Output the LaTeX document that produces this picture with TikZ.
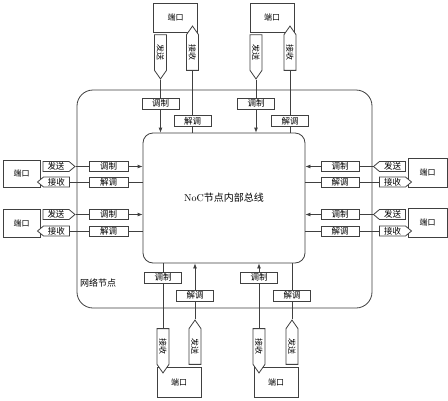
\documentclass[tikz,border=0pt]{standalone}
\usepackage{fontspec}
\newfontfamily\cjk{Noto Sans CJK SC}
\usetikzlibrary{shapes.symbols, arrows.meta}

\tikzset{
  line/.style={draw=black!75, line width=0.8pt},
  arr/.style={line, -{Latex[length=5pt,width=4pt]}},
  port/.style={line, fill=white, inner sep=0pt, minimum width=44, minimum height=29, font=\cjk\fontsize{8}{8}\selectfont},
  modbox/.style={line, fill=white, inner sep=0pt, minimum width=37, minimum height=11, font=\cjk\fontsize{8.5}{8.5}\selectfont},
  sigv/.style={line, fill=white, signal, inner sep=0pt, minimum width=12, minimum height=41, signal pointer angle=70, font=\cjk\fontsize{8}{8}\selectfont},
  sigh/.style={line, fill=white, signal, inner sep=0pt, minimum width=32, minimum height=10, signal pointer angle=80, font=\cjk\fontsize{8.5}{8.5}\selectfont}
}

\begin{document}
\begin{tikzpicture}[x=1pt, y=-1pt]
\useasboundingbox[fill=white] (0,0) rectangle (448,400);
% network node and bus
\draw[line, rounded corners=16] (77,90) rectangle (372,308);
\node[line, rounded corners=10, inner sep=0pt, minimum width=162, minimum height=130, font=\cjk\fontsize{10}{10}\selectfont] (bus) at (224,198) {{\rmfamily NoC}节点内部总线};
\node[font=\cjk\fontsize{9}{9}\selectfont] (netlabel) at (98,283) {网络节点};

% top ports
\node[port] (pTL) at (175.5,17.5) {端口};
\node[port] (pTR) at (272,17.5) {端口};
\node[sigv, signal to=south] (tlTx) at (160.5,52.5) {\rotatebox{-90}{发送}};
\node[sigv, signal to=north] (tlRx) at (192.5,52.5) {\rotatebox{-90}{接收}};
\node[sigv, signal to=south] (trTx) at (256,52.5) {\rotatebox{-90}{发送}};
\node[sigv, signal to=north] (trRx) at (290,52.5) {\rotatebox{-90}{接收}};

% bottom ports
\node[port, minimum height=30] (pBL) at (179,382) {端口};
\node[port, minimum height=30] (pBR) at (276,382) {端口};
\node[sigv, signal to=south] (blRx) at (163,346.5) {\rotatebox{-90}{接收}};
\node[sigv, signal to=north] (blTx) at (195,346.5) {\rotatebox{-90}{发送}};
\node[sigv, signal to=south] (brRx) at (259,346.5) {\rotatebox{-90}{接收}};
\node[sigv, signal to=north] (brTx) at (292,346.5) {\rotatebox{-90}{发送}};

% left ports
\node[port, minimum width=37, minimum height=27] (pL1) at (21.5,173.5) {端口};
\node[port, minimum width=37, minimum height=28] (pL2) at (21.5,223) {端口};
\node[sigh, signal to=east] (l1Tx) at (56,166.5) {发送};
\node[sigh, signal to=west] (l1Rx) at (56.5,182) {接收};
\node[sigh, signal to=east] (l2Tx) at (56,214.5) {发送};
\node[sigh, signal to=west] (l2Rx) at (56.5,231) {接收};

% right ports
\node[port, minimum width=39, minimum height=29] (pR1) at (427.5,172.5) {端口};
\node[port, minimum width=39, minimum height=29] (pR2) at (427.5,222.5) {端口};
\node[sigh, signal to=west] (r1Tx) at (392.5,166.5) {发送};
\node[sigh, signal to=east] (r1Rx) at (392.5,182) {接收};
\node[sigh, signal to=west] (r2Tx) at (392.5,214.5) {发送};
\node[sigh, signal to=east] (r2Rx) at (392.5,231) {接收};

% lines to the bus
\draw[arr] (tlTx.south) -- (tlTx.south |- bus.north);
\draw[line] (tlRx.south) -- (tlRx.south |- bus.north);
\draw[arr] (trTx.south) -- (trTx.south |- bus.north);
\draw[line] (trRx.south) -- (trRx.south |- bus.north);
\draw[line] (blRx.north) -- (blRx.north |- bus.south);
\draw[arr] (blTx.north) -- (blTx.north |- bus.south);
\draw[arr] (brRx.north) -- (brRx.north |- bus.south);
\draw[line] (brTx.north) -- (brTx.north |- bus.south);
\draw[arr] (l1Tx.east) -- (l1Tx.east -| bus.west);
\draw[line] (l1Rx.east) -- (l1Rx.east -| bus.west);
\draw[arr] (l2Tx.east) -- (l2Tx.east -| bus.west);
\draw[line] (l2Rx.east) -- (l2Rx.east -| bus.west);
\draw[arr] (r1Tx.west) -- (r1Tx.west -| bus.east);
\draw[line] (r1Rx.west) -- (r1Rx.west -| bus.east);
\draw[arr] (r2Tx.west) -- (r2Tx.west -| bus.east);
\draw[line] (r2Rx.west) -- (r2Rx.west -| bus.east);

% modulator boxes
\node[modbox] (mTL) at (160.5,103.5) {调制};
\node[modbox] (dTL) at (192.5,121) {解调};
\node[modbox] (mTR) at (256,103.5) {调制};
\node[modbox] (dTR) at (290,121) {解调};
\node[modbox] (mBL) at (163,277.5) {调制};
\node[modbox] (dBL) at (195,295.5) {解调};
\node[modbox] (mBR) at (259,277.5) {调制};
\node[modbox] (dBR) at (292,295.5) {解调};
\node[modbox, minimum width=39, minimum height=10] (mL1) at (108.5,166.5) {调制};
\node[modbox, minimum width=39, minimum height=10] (dL1) at (108.5,182) {解调};
\node[modbox, minimum width=39, minimum height=10] (mL2) at (108.5,214.5) {调制};
\node[modbox, minimum width=39, minimum height=10] (dL2) at (108.5,231) {解调};
\node[modbox, minimum width=38, minimum height=10] (mR1) at (340,166.5) {调制};
\node[modbox, minimum width=38, minimum height=10] (dR1) at (340,182) {解调};
\node[modbox, minimum width=38, minimum height=10] (mR2) at (340,214.5) {调制};
\node[modbox, minimum width=38, minimum height=10] (dR2) at (340,231) {解调};
\end{tikzpicture}
\end{document}
